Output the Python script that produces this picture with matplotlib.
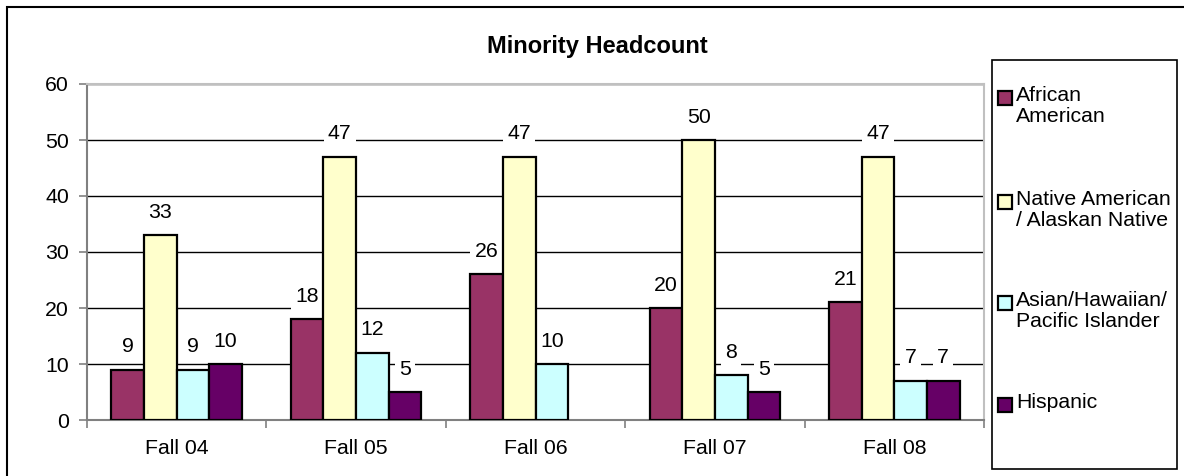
import numpy as np
import matplotlib
matplotlib.use("Agg")
import matplotlib.pyplot as plt
from matplotlib.patches import Rectangle

plt.rcParams['font.family'] = ['Liberation Sans', 'DejaVu Sans']

categories = ["Fall 04", "Fall 05", "Fall 06", "Fall 07", "Fall 08"]
series_names = ["African\nAmerican", "Native American\n/ Alaskan Native",
                "Asian/Hawaiian/\nPacific Islander", "Hispanic"]
african = [9, 18, 26, 20, 21]
native = [33, 47, 47, 50, 47]
asian = [9, 12, 10, 8, 7]
hispanic = [10, 5, np.nan, 5, 7]
series_values = [african, native, asian, hispanic]
colors = ["#993366", "#FFFFCC", "#CCFFFF", "#660066"]
yticks = [0, 10, 20, 30, 40, 50, 60]
title = "Minority Headcount"

W, H = 1184, 476
fig = plt.figure(figsize=(W / 100, H / 100), dpi=100)
FS = 15.3

def fx(px):
    return px / W

def fy(py):
    return 1 - py / H

# outer border
fig.patches.append(Rectangle((fx(7), fy(490)), fx(1190 - 7), (490 - 7) / H,
                             transform=fig.transFigure, fill=False,
                             edgecolor="black", linewidth=1.5))

ax = fig.add_axes([fx(87), fy(420), fx(984 - 87), (420 - 84) / H])

n = len(series_values)
gap = 1.5
bw = 1.0 / (n + gap)
x = np.arange(len(categories))
for i, (vals, c) in enumerate(zip(series_values, colors)):
    offs = (i - (n - 1) / 2) * bw
    v = np.array(vals, dtype=float)
    ax.bar(x + offs, v, width=bw, color=c, edgecolor="black", linewidth=1.6,
           zorder=3)
    for xi, vi in zip(x + offs, v):
        if np.isnan(vi):
            continue
        ax.annotate(f"{int(vi)}", (xi, vi), xytext=(0, 16.5),
                    textcoords="offset points", ha="center", va="center",
                    fontsize=FS, zorder=2.5,
                    bbox=dict(boxstyle="square,pad=0.2", facecolor="white",
                              edgecolor="none"))

ax.set_xlim(-0.5, len(categories) - 0.5)
ax.set_ylim(0, 60)
ax.set_yticks(yticks)
ax.set_yticklabels([str(t) for t in yticks], fontsize=FS)
ax.yaxis.grid(True, color="black", linewidth=1.0, zorder=0)
ax.set_axisbelow(True)

# category ticks at boundaries, labels centered
ax.set_xticks(np.arange(len(categories) + 1) - 0.5)
ax.set_xticklabels([])
ax.set_xticks(x, minor=True)
ax.set_xticklabels(categories, minor=True, fontsize=FS)
ax.tick_params(axis="x", which="minor", length=0, pad=14)
ax.tick_params(axis="x", which="major", length=6, width=1.2, color="#808080",
               direction="out")
ax.tick_params(axis="y", length=6, width=1.2, color="#808080", direction="out",
               pad=7)

for side in ["top", "right"]:
    ax.spines[side].set_color("#C0C0C0")
    ax.spines[side].set_linewidth(1.5)
for side in ["left", "bottom"]:
    ax.spines[side].set_color("#808080")
    ax.spines[side].set_linewidth(1.5)

fig.text(fx(597), fy(46), title, ha="center", va="center", fontsize=17,
         fontweight="bold")

# legend
fig.patches.append(Rectangle((fx(992), fy(469)), fx(1177 - 992), (469 - 60) / H,
                             transform=fig.transFigure, fill=True,
                             facecolor="white", edgecolor="black",
                             linewidth=1.2))
first_line_y = [98, 202, 303, 405]
for name, c, yy in zip(series_names, colors, first_line_y):
    fig.patches.append(Rectangle((fx(998), fy(yy + 7)), fx(14), 14 / H,
                                 transform=fig.transFigure, facecolor=c,
                                 edgecolor="black", linewidth=1.6))
    fig.text(fx(1016), fy(yy - 12), name, ha="left", va="top",
             fontsize=FS, linespacing=1.15)

fig.savefig("out.png", dpi=100)
